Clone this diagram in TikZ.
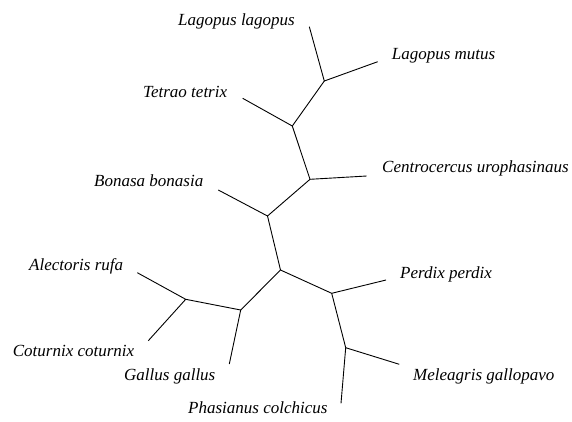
\documentclass[tikz,border=0pt]{standalone}
\usepackage{fontspec}
\setmainfont{Liberation Serif}
\begin{document}
\begin{tikzpicture}[x=1pt,y=-1pt,
  branch/.style={line width=0.9pt},
  taxon/.style={anchor=base west,inner sep=0pt,font=\fontsize{17}{20}\selectfont\itshape}]
\useasboundingbox (0,0) rectangle (572,421);
% internal junctions
\coordinate (A) at (324.3,81);
\coordinate (B) at (292.3,126);
\coordinate (C) at (310,179.3);
\coordinate (D) at (267.5,216);
\coordinate (E) at (280.5,270);
\coordinate (G) at (240.7,310);
\coordinate (F) at (185.7,299.3);
\coordinate (H) at (331.7,293.3);
\coordinate (I) at (345.7,347.7);
% leaf ends
\coordinate (lLL) at (309.3,26.7);
\coordinate (lLM) at (377.7,61.7);
\coordinate (lTT) at (242.7,98.3);
\coordinate (lCU) at (366.7,176);
\coordinate (lBB) at (218.3,190);
\coordinate (lAR) at (137.3,272.7);
\coordinate (lCC) at (148.3,340.7);
\coordinate (lGG) at (229.3,364);
\coordinate (lPP) at (386,280);
\coordinate (lMG) at (399.3,364.3);
\coordinate (lPC) at (341,403.3);
% branches
\draw[branch] (lLL) -- (A) -- (lLM);
\draw[branch] (A) -- (B) -- (lTT);
\draw[branch] (B) -- (C) -- (lCU);
\draw[branch] (C) -- (D) -- (lBB);
\draw[branch] (D) -- (E);
\draw[branch] (E) -- (G) -- (lGG);
\draw[branch] (G) -- (F);
\draw[branch] (lAR) -- (F) -- (lCC);
\draw[branch] (E) -- (H) -- (lPP);
\draw[branch] (H) -- (I) -- (lMG);
\draw[branch] (I) -- (lPC);
% labels
\node[taxon] (tLL) at (178,25) {Lagopus lagopus};
\node[taxon] (tLM) at (391.7,59) {Lagopus mutus};
\node[taxon] (tTT) at (143,97) {Tetrao tetrix};
\node[taxon] (tCU) at (382,172) {Centrocercus urophasinaus};
\node[taxon] (tBB) at (94,186.7) {Bonasa bonasia};
\node[taxon] (tAR) at (29,270) {Alectoris rufa};
\node[taxon] (tPP) at (400,278.3) {Perdix perdix};
\node[taxon] (tCC) at (12.7,356) {Coturnix coturnix};
\node[taxon] (tGG) at (124,380) {Gallus gallus};
\node[taxon] (tMG) at (413,380) {Meleagris gallopavo};
\node[taxon] (tPC) at (188,413) {Phasianus colchicus};
\end{tikzpicture}
\end{document}
